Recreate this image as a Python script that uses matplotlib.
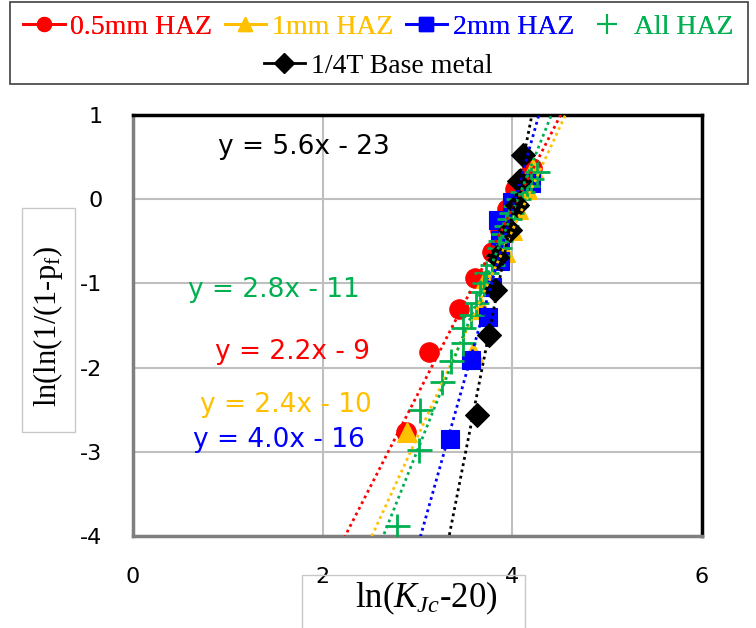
import numpy as np
import matplotlib
matplotlib.use("Agg")
import matplotlib.pyplot as plt
from matplotlib.lines import Line2D
from matplotlib.patches import Rectangle

plt.rcParams["mathtext.fontset"] = "custom"
plt.rcParams["mathtext.rm"] = "Liberation Serif"
plt.rcParams["mathtext.it"] = "Liberation Serif:italic"
plt.rcParams["axes.unicode_minus"] = False

# --- data ---
x_05 = [2.88, 3.12, 3.44, 3.61, 3.78, 3.87, 3.94, 4.03, 4.21]
y_05 = [-2.76, -1.82, -1.31, -0.94, -0.63, -0.37, -0.12, 0.12, 0.37]

x_1 = [2.89, 3.59, 3.68, 3.72, 3.92, 4.00, 4.06, 4.15, 4.22]
y_1 = [-2.76, -1.82, -1.31, -0.94, -0.63, -0.37, -0.12, 0.12, 0.37]

x_2 = [3.34, 3.56, 3.74, 3.79, 3.87, 3.87, 3.85, 4.00, 4.20]
y_2 = [-2.85, -1.91, -1.40, -1.04, -0.74, -0.49, -0.25, -0.03, 0.19]

x_all = [2.78, 3.02, 3.03, 3.26, 3.35, 3.48, 3.48, 3.56, 3.62, 3.66, 3.70, 3.72, 3.78,
         3.84, 3.86, 3.87, 3.90, 3.93, 3.96, 3.99, 4.03, 4.06, 4.10, 4.15, 4.20, 4.26]
y_all = [-3.88, -2.98, -2.50, -2.17, -1.92, -1.71, -1.53, -1.37, -1.23, -1.10, -0.99, -0.88, -0.78,
         -0.68, -0.58, -0.50, -0.41, -0.32, -0.24, -0.16, -0.08, 0.00, 0.08, 0.16, 0.24, 0.32]

x_base = [3.63, 3.75, 3.82, 3.84, 3.98, 4.05, 4.07, 4.11]
y_base = [-2.56, -1.61, -1.08, -0.69, -0.37, -0.07, 0.22, 0.53]

# trendlines: slope, intercept
fit_05 = (2.20, -8.92)
fit_1 = (2.45, -10.17)
fit_2 = (4.01, -16.16)
fit_all = (2.82, -11.44)
fit_base = (5.73, -23.1)

eq_labels = ["y = 2.2x - 9", "y = 2.4x - 10", "y = 4.0x - 16", "y = 2.8x - 11", "y = 5.6x - 23"]
eq_pos = [(0.865, -1.815), (0.707, -2.444), (0.633, -2.86), (0.58, -1.078), (0.897, 0.62)]

names = ["0.5mm HAZ", "1mm HAZ", "2mm HAZ", "All HAZ", "1/4T Base metal"]
colors = ["#FF0000", "#FFC000", "#0000FF", "#00B050", "#000000"]
markers = ["o", "^", "s", "+", "D"]
msizes = [14, 14, 13, 18, 12]

xs = [x_05, x_1, x_2, x_all, x_base]
ys = [y_05, y_1, y_2, y_all, y_base]
fits = [fit_05, fit_1, fit_2, fit_all, fit_base]

fig = plt.figure(figsize=(7.56, 6.28), dpi=100)
ax = fig.add_axes([0.176, 0.1465, 0.7526, 0.6704])

for xv, yv, c, m, s in zip(xs, ys, colors, markers, msizes):
    ax.plot(xv, yv, linestyle="none", marker=m, color=c, markersize=s,
            markeredgewidth=2 if m == "+" else 0.8, zorder=3)

xx = np.array([0, 6])
for (a, b), c in zip(fits, colors):
    ax.plot(xx, a * xx + b, linestyle=(0, (1, 1.3)), color=c, lw=2, zorder=4)

for lab, (px, py), c in zip(eq_labels, eq_pos, colors):
    ax.text(px, py, lab, color=c, fontsize=19, ha="left", va="center", family="DejaVu Sans")

ax.set_xlim(0, 6)
ax.set_ylim(-4, 1)
ax.set_xticks([0, 2, 4, 6])
ax.set_yticks([-4, -3, -2, -1, 0, 1])
ax.grid(True, color="#bfbfbf", lw=1.5)
ax.set_axisbelow(True)
ax.tick_params(length=0, labelsize=16, pad=22)
for sp in ["top", "right"]:
    ax.spines[sp].set_color("black")
    ax.spines[sp].set_linewidth(2.5)
for sp in ["left", "bottom"]:
    ax.spines[sp].set_color("#7f7f7f")
    ax.spines[sp].set_linewidth(2.5)

# axis titles with their boxes
fig.text(426 / 756, 1 - 598 / 628, r"ln($K_{Jc}$-20)", fontsize=25, family="Liberation Serif",
         ha="center", va="center")
fig.patches.append(Rectangle((302 / 756, -0.05), 223 / 756, 0.05 + 1 - 575 / 628,
                             transform=fig.transFigure, fill=False, edgecolor="#c8c8c8", lw=1))
fig.text(48 / 756, 1 - 326 / 628, r"ln(ln(1/(1-p$_\mathrm{f}$)", fontsize=22, family="Liberation Serif",
         ha="center", va="center", rotation=90)
fig.patches.append(Rectangle((22 / 756, 1 - 432 / 628), 53 / 756, 224 / 628,
                             transform=fig.transFigure, fill=False, edgecolor="#c8c8c8", lw=1))

# legend: four entries on top row, base metal centred below
handles = []
for i in range(5):
    handles.append(Line2D([], [], color=colors[i], marker=markers[i],
                          markersize=14 if markers[i] == "+" else 10,
                          markeredgewidth=1.5 if markers[i] == "+" else 1,
                          linestyle="none" if i == 3 else "-", lw=2))
leg1 = fig.legend(handles[:4], names[:4], loc="center", bbox_to_anchor=(0.5, 1 - 27 / 628),
                  ncol=4, frameon=False, prop={"family": "Liberation Serif", "size": 20},
                  handlelength=1.5, handletextpad=0.2, columnspacing=0.45, labelcolor=colors[:4])
fig.legend(handles[4:], names[4:], loc="center", bbox_to_anchor=(0.5, 1 - 66 / 628),
           frameon=False, prop={"family": "Liberation Serif", "size": 20},
           handlelength=1.5, handletextpad=0.2, labelcolor=colors[4:])
fig.add_artist(leg1)
fig.patches.append(Rectangle((10 / 756, 1 - 84 / 628), 738 / 756, 82 / 628,
                             transform=fig.transFigure, fill=False, edgecolor="#404040", lw=1.2))

fig.savefig("out.png", dpi=100)
